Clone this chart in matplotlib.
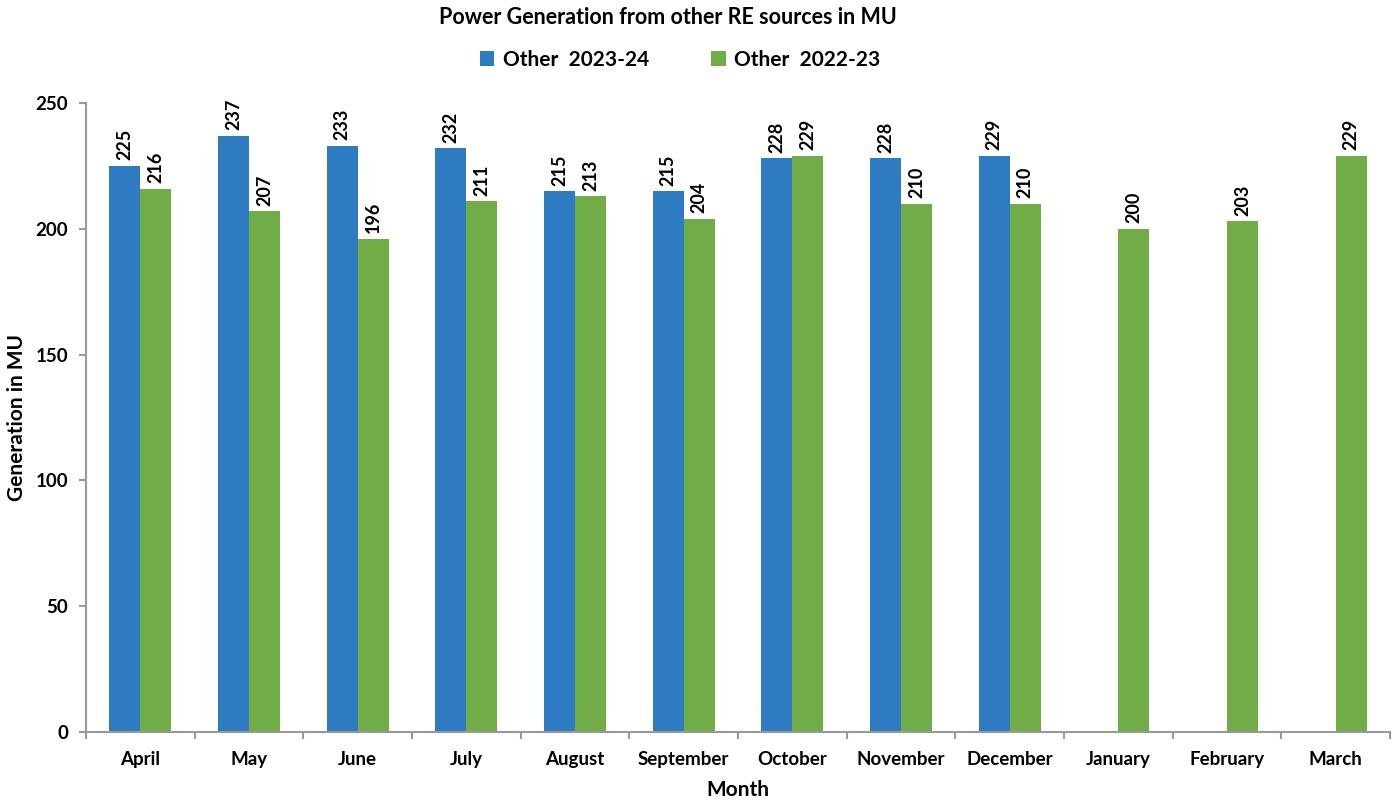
import numpy as np
import matplotlib.pyplot as plt

months = ["April", "May", "June", "July", "August", "September", "October",
          "November", "December", "January", "February", "March"]
gen_2023_24 = [225, 237, 233, 232, 215, 215, 228, 228, 229]
gen_2022_23 = [216, 207, 196, 211, 213, 204, 229, 210, 210, 200, 203, 229]
series_names = ["Other  2023-24", "Other  2022-23"]

plt.rcParams["font.family"] = ["Lato", "DejaVu Sans"]
plt.rcParams["font.weight"] = "bold"

blue = "#2F7BC1"
green = "#70AD47"

fig = plt.figure(figsize=(13.98, 8.05), dpi=100)
ax = fig.add_axes([86 / 1398, 73 / 805, 1304 / 1398, 629 / 805])

x = np.arange(len(months))
w = 0.285
b1 = ax.bar(x[:len(gen_2023_24)] - w / 2, gen_2023_24, w, color=blue, label=series_names[0])
b2 = ax.bar(x + w / 2, gen_2022_23, w, color=green, label=series_names[1])

for bars, vals in ((b1, gen_2023_24), (b2, gen_2022_23)):
    for rect, v in zip(bars, vals):
        ax.annotate(f"{v}", (rect.get_x() + rect.get_width() / 2, rect.get_height()),
                    xytext=(0, 4), textcoords="offset points", rotation=90,
                    ha="center", va="bottom", fontsize=13, fontweight="bold")

ax.set_xlim(-0.5, len(months) - 0.5)
ax.set_ylim(0, 250)
ax.set_yticks(range(0, 251, 50))
ax.set_xticks(x)
ax.set_xticklabels(months)
ax.set_xticks(np.arange(-0.5, len(months)), minor=True)
ax.tick_params(axis="x", which="major", length=0, pad=14, labelsize=13.5)
ax.tick_params(axis="x", which="minor", length=5, color="#999999", width=1.5)
ax.tick_params(axis="y", length=5, color="#999999", width=1.5, pad=8, labelsize=13.5)

for s in ("top", "right"):
    ax.spines[s].set_visible(False)
for s in ("left", "bottom"):
    ax.spines[s].set_color("#999999")
    ax.spines[s].set_linewidth(1.5)

ax.set_xlabel("Month", fontsize=15, fontweight="bold")
ax.set_ylabel("Generation in MU", fontsize=15, fontweight="bold")
ax.xaxis.set_label_coords(0.5, (732 - 790) / 629, transform=ax.transAxes)
ax.yaxis.set_label_coords((17 - 86) / 1304, 0.5, transform=ax.transAxes)
ax.xaxis.label.set_va("center")
ax.yaxis.label.set_va("center")

fig.text(668 / 1398, 1 - 18 / 805, "Power Generation from other RE sources in MU",
         ha="center", va="center", fontsize=15.5, fontweight="bold")
fig.legend(loc="center", bbox_to_anchor=(680 / 1398, 1 - 60 / 805), ncol=2,
           frameon=False, fontsize=15, handlelength=0.7, handleheight=0.7,
           columnspacing=3.0, handletextpad=0.4)

fig.savefig("out.png", dpi=100)
